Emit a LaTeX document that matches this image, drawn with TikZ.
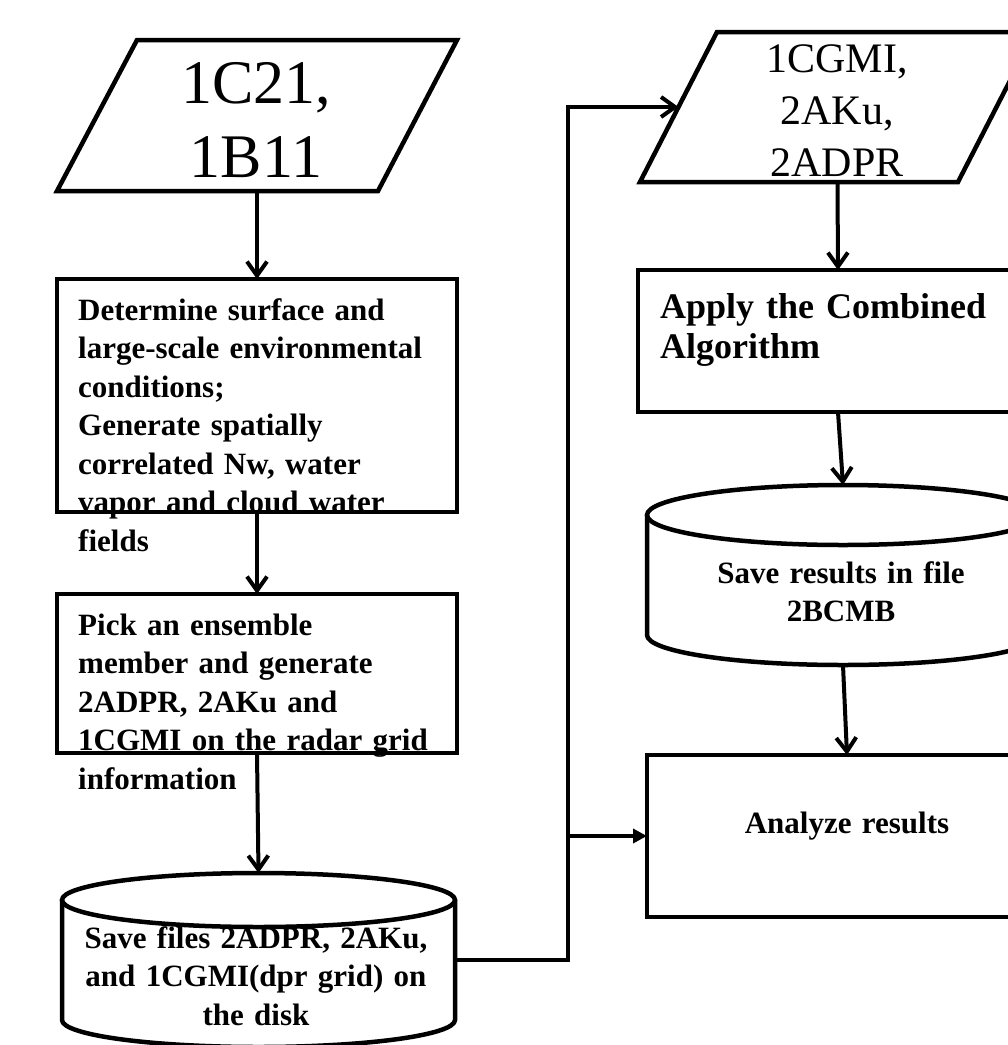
\documentclass[tikz,border=0pt]{standalone}
\usepackage{fontspec}
\setmainfont{Liberation Serif}
\usetikzlibrary{arrows.meta}
\begin{document}
\begin{tikzpicture}[x=1pt,y=1pt,
  outline/.style={line width=4.5pt, line join=miter},
  conn/.style={line width=4pt, -{Straight Barb[length=14pt,width=20pt]}},
  connT/.style={line width=4pt, -{Triangle[length=14pt,width=14pt]}},
  area/.style={draw=none, inner sep=0pt, outer sep=0pt, rectangle},
  btxt/.style={font=\fontsize{31}{38.5}\selectfont\bfseries, inner sep=0pt, align=left, text width=390pt, anchor=base west},
  ctxt/.style={font=\fontsize{31}{38.5}\selectfont\bfseries, inner sep=0pt, align=center, text width=390pt, anchor=base},
  bigtxt/.style={inner sep=0pt, align=center, text width=380pt, anchor=base},
]
\path[use as bounding box] (0,0) rectangle (1008,-1045);
\fill[white] (0,0) rectangle (1008,-1045);
\clip (0,0) rectangle (1008,-1045);

% ---------- areas of the shapes ----------
\node[area, minimum width=400pt, minimum height=151pt] (inA) at (257,-115.5) {};
\node[area, minimum width=400pt, minimum height=233pt] (b1) at (257,-395.5) {};
\node[area, minimum width=400pt, minimum height=159pt] (b2) at (257,-673.5) {};
\node[area, minimum width=393pt, minimum height=174pt] (cylA) at (258.5,-960) {};
\node[area, minimum width=395pt, minimum height=150pt] (inB) at (837.5,-107) {};
\node[area, minimum width=400pt, minimum height=142pt] (apply) at (838,-341) {};
\node[area, minimum width=392pt, minimum height=180pt] (cylB) at (843,-575) {};
\node[area, minimum width=400pt, minimum height=162pt] (ana) at (847,-836) {};

% ---------- texts ----------
\node[bigtxt, font=\fontsize{62}{74}\selectfont] (inAt) at (256,-103) {1C21,\\1B11};
\node[btxt] (b1t) at (78,-320) {Determine surface and\\large-scale environmental\\conditions;\\Generate spatially\\correlated Nw, water\\vapor and cloud water\\fields};
\node[btxt] (b2t) at (78,-635) {Pick an ensemble\\member and generate\\2ADPR, 2AKu and\\1CGMI on the radar grid\\information};
\node[ctxt] (cylAt) at (256,-948) {Save files 2ADPR, 2AKu,\\and 1CGMI(dpr grid) on\\the disk};
\node[bigtxt, font=\fontsize{42}{52}\selectfont] (inBt) at (837,-72) {1CGMI,\\2AKu,\\2ADPR};
\node[btxt, font=\fontsize{36}{40}\selectfont\bfseries] (applyt) at (660,-318) {Apply the Combined\\Algorithm};
\node[ctxt] (cylBt) at (841,-583) {Save results in file\\2BCMB};
\node[ctxt] (anat) at (847,-833) {Analyze results};

% ---------- outlines ----------
\draw[outline] ([xshift=80pt]inA.north west) -- (inA.north east) -- ([xshift=-79pt]inA.south east) -- (inA.south west) -- cycle;
\draw[outline] (b1.north west) rectangle (b1.south east);
\draw[outline] (b2.north west) rectangle (b2.south east);
\draw[outline] (cylA.center) ++(0,60) ellipse (196.5pt and 27pt);
\draw[outline] ([yshift=-27pt]cylA.north west) -- ([yshift=27pt]cylA.south west)
   arc[start angle=180, end angle=360, x radius=196.5pt, y radius=27pt] -- ([yshift=-27pt]cylA.north east);
\draw[outline] ([xshift=77pt]inB.north west) -- (inB.north east) -- ([xshift=-77pt]inB.south east) -- (inB.south west) -- cycle;
\draw[outline] (apply.north west) rectangle (apply.south east);
\draw[outline] (cylB.center) ++(0,60) ellipse (196pt and 30pt);
\draw[outline] ([yshift=-30pt]cylB.north west) -- ([yshift=30pt]cylB.south west)
   arc[start angle=180, end angle=360, x radius=196pt, y radius=30pt] -- ([yshift=-30pt]cylB.north east);
\draw[outline] (ana.north west) rectangle (ana.south east);

% ---------- connectors ----------
\coordinate (bus) at (568,-107);
\coordinate (inBl) at (678.5,-107);
\draw[conn] (inA.south) -- (b1.north);
\draw[conn] (b1.south) -- (b2.north);
\draw[conn] (b2.south) -- (cylA.north);
\draw[conn] (inB.south) -- (apply.north);
\draw[conn] (apply.south) -- (cylB.north);
\draw[conn] (cylB.south) -- (ana.north);
\draw[conn] (cylA.east) -| (bus) -- (inBl);
\draw[connT] (bus |- ana.west) -- (ana.west);
\end{tikzpicture}
\end{document}
